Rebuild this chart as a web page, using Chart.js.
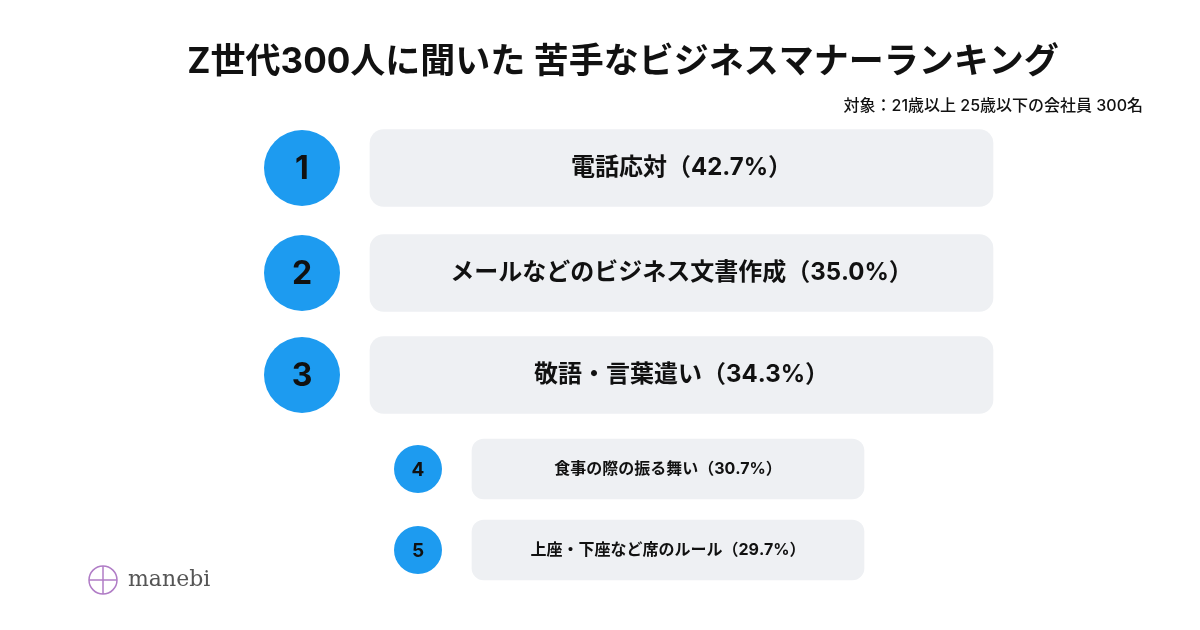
<!DOCTYPE html>
<html>
<head>
<meta charset="utf-8">
<script src="https://cdn.jsdelivr.net/npm/chart.js@4/dist/chart.umd.min.js"></script>
<style>
  html, body { margin: 0; background: #ffffff; }
</style>
</head>
<body>
<canvas id="c" width="1200" height="630"></canvas>
<script>
// data
const ranks = ["1", "2", "3", "4", "5"];
const items = ["電話応対", "メールなどのビジネス文書作成", "敬語・言葉遣い", "食事の際の振る舞い", "上座・下座など席のルール"];
const percents = [42.7, 35.0, 34.3, 30.7, 29.7];
// layout rows (page units)
const rowY = [168, 273, 375, 469, 550];
const boxStart = [370, 370, 370, 472, 472];
const boxEnd = [993, 993, 993, 864, 864];
const circleX = [302, 302, 302, 418, 418];
const circleR = [38, 38, 38, 24, 24];
const isTop = [true, true, true, false, false];

const title = "Z世代300人に聞いた 苦手なビジネスマナーランキング";
const subtitle = "対象：21歳以上 25歳以下の会社員 300名";
const FONT = "Inter, 'Noto Sans CJK JP', sans-serif";

const bigRows = ranks.map((r, i) => i).filter(i => isTop[i]);
const smallRows = ranks.map((r, i) => i).filter(i => !isTop[i]);

const textPlugin = {
  id: "texts",
  afterDatasetsDraw(chart) {
    const ctx = chart.ctx;
    const xs = chart.scales.x, ys = chart.scales.y;
    ctx.save();
    ctx.textBaseline = "middle";
    ctx.textAlign = "center";
    ctx.fillStyle = "#111111";
    ctx.font = "bold 35px " + FONT;
    ctx.fillText(title, 623, 62);
    ctx.textAlign = "right";
    ctx.font = "500 16px " + FONT;
    ctx.fillText(subtitle, 1143, 106);

    ranks.forEach((r, i) => {
      const cy = ys.getPixelForValue(rowY[i]);
      ctx.textAlign = "center";
      ctx.fillStyle = "#111111";
      ctx.font = "bold " + (isTop[i] ? 32 : 19) + "px " + FONT;
      ctx.fillText(r, xs.getPixelForValue(circleX[i]), cy + 1);
      const mid = (xs.getPixelForValue(boxStart[i]) + xs.getPixelForValue(boxEnd[i])) / 2;
      ctx.font = "bold " + (isTop[i] ? 24 : 16) + "px " + FONT;
      ctx.fillText(items[i] + "（" + percents[i].toFixed(1) + "%）", mid, cy);
    });

    // logo
    const lx = 103, ly = 580;
    ctx.strokeStyle = "#b07cc6";
    ctx.lineWidth = 1.5;
    ctx.beginPath(); ctx.arc(lx, ly, 14, 0, Math.PI * 2); ctx.stroke();
    ctx.beginPath(); ctx.moveTo(lx - 14, ly); ctx.lineTo(lx + 14, ly); ctx.stroke();
    ctx.beginPath(); ctx.moveTo(lx, ly - 14); ctx.lineTo(lx, ly + 14); ctx.stroke();
    ctx.fillStyle = "#555555";
    ctx.textAlign = "left";
    ctx.font = "22px 'DejaVu Serif', serif";
    ctx.fillText("manebi", 128, 580);
    ctx.restore();
  }
};

new Chart(document.getElementById("c"), {
  type: "bar",
  data: {
    datasets: [
      {
        type: "bar",
        data: bigRows.map(i => ({ x: [boxStart[i], boxEnd[i]], y: rowY[i] })),
        backgroundColor: "#eef0f3",
        borderRadius: 14,
        borderSkipped: false,
        barThickness: 77,
        grouped: false
      },
      {
        type: "bar",
        data: smallRows.map(i => ({ x: [boxStart[i], boxEnd[i]], y: rowY[i] })),
        backgroundColor: "#eef0f3",
        borderRadius: 12,
        borderSkipped: false,
        barThickness: 60,
        grouped: false
      },
      {
        type: "bubble",
        data: ranks.map((r, i) => ({ x: circleX[i], y: rowY[i], r: circleR[i] })),
        backgroundColor: "#1d9bf0",
        borderWidth: 0,
        clip: false
      }
    ]
  },
  options: {
    indexAxis: "y",
    responsive: false,
    animation: false,
    devicePixelRatio: 1,
    layout: { padding: 0, autoPadding: false },
    plugins: { legend: { display: false }, tooltip: { enabled: false } },
    scales: {
      x: { type: "linear", min: 0, max: 1200, display: false, offset: false },
      y: { type: "linear", min: 0, max: 630, reverse: true, display: false, offset: false }
    }
  },
  plugins: [textPlugin]
});
</script>
</body>
</html>
